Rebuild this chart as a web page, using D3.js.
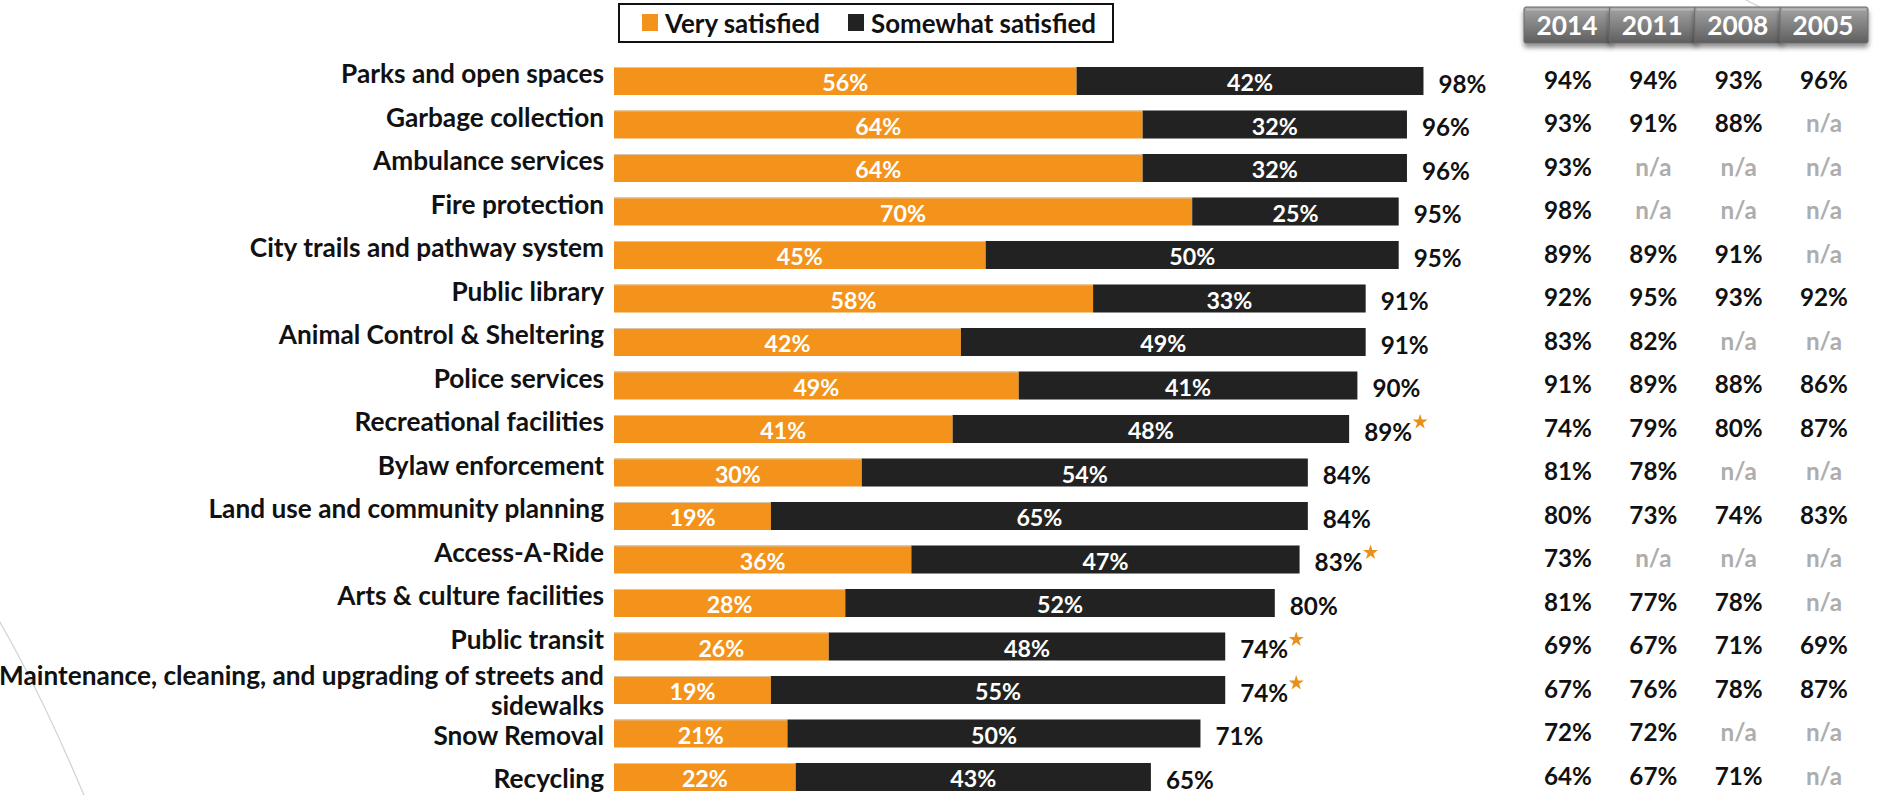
<!DOCTYPE html>
<html>
<head>
<meta charset="utf-8">
<script src="https://cdn.jsdelivr.net/npm/d3@7"></script>
<style>
  html, body { margin: 0; padding: 0; background: #ffffff; }
  svg { display: block; }
  text { font-family: Lato, "Open Sans", sans-serif; font-weight: 700; }
</style>
</head>
<body>
<svg id="chart" width="1883" height="795"></svg>
<script>
// Service satisfaction, sorted by total satisfied
const categories = [
  "Parks and open spaces",
  "Garbage collection",
  "Ambulance services",
  "Fire protection",
  "City trails and pathway system",
  "Public library",
  "Animal Control & Sheltering",
  "Police services",
  "Recreational facilities",
  "Bylaw enforcement",
  "Land use and community planning",
  "Access-A-Ride",
  "Arts & culture facilities",
  "Public transit",
  "Maintenance, cleaning, and upgrading of streets and sidewalks",
  "Snow Removal",
  "Recycling"
];
// Label text as wrapped lines
const categoryLines = [
  ["Parks and open spaces"],
  ["Garbage collection"],
  ["Ambulance services"],
  ["Fire protection"],
  ["City trails and pathway system"],
  ["Public library"],
  ["Animal Control & Sheltering"],
  ["Police services"],
  ["Recreational facilities"],
  ["Bylaw enforcement"],
  ["Land use and community planning"],
  ["Access-A-Ride"],
  ["Arts & culture facilities"],
  ["Public transit"],
  ["Maintenance, cleaning, and upgrading of streets and", "sidewalks"],
  ["Snow Removal"],
  ["Recycling"]
];
const verySatisfied     = [56, 64, 64, 70, 45, 58, 42, 49, 41, 30, 19, 36, 28, 26, 19, 21, 22];
const somewhatSatisfied = [42, 32, 32, 25, 50, 33, 49, 41, 48, 54, 65, 47, 52, 48, 55, 50, 43];
const totalSatisfied    = [98, 96, 96, 95, 95, 91, 91, 90, 89, 84, 84, 83, 80, 74, 74, 71, 65];
// Significant change vs. 2014 flagged with a star
const flagged           = [false, false, false, false, false, false, false, false, true, false, false, true, false, true, true, false, false];

// Earlier survey waves (null = not asked)
const years = ["2014", "2011", "2008", "2005"];
const wave2014 = [94, 93, 93, 98, 89, 92, 83, 91, 74, 81, 80, 73, 81, 69, 67, 72, 64];
const wave2011 = [94, 91, null, null, 89, 95, 82, 89, 79, 78, 73, null, 77, 67, 76, 72, 67];
const wave2008 = [93, 88, null, null, 91, 93, null, 88, 80, null, 74, null, 78, 71, 78, null, 71];
const wave2005 = [96, null, null, null, null, 92, null, 86, 87, null, 83, null, null, 69, 87, null, null];
const waves = [wave2014, wave2011, wave2008, wave2005];

const seriesNames = ["Very satisfied", "Somewhat satisfied"];

const ORANGE = "#F3931B";
const DARK = "#222222";

const svg = d3.select("#chart");
const defs = svg.append("defs");

// Pick a font size so that a sample string spans the given width
function fitSize(sample, width) {
  const t = svg.append("text").attr("font-size", 100).text(sample);
  const w = t.node().getComputedTextLength();
  t.remove();
  return 100 * width / w;
}
const labelSize  = fitSize("Parks and open spaces", 263);
const legendSize = fitSize("Somewhat satisfied", 225);
const totalSize  = fitSize("98%", 48);
const inBarSize  = fitSize("56%", 46);
const waveSize   = fitSize("94%", 48);
const yearSize   = fitSize("2014", 61);

// Header button gradient + shadow
const grad = defs.append("linearGradient").attr("id", "btnGrad")
  .attr("x1", 0).attr("y1", 0).attr("x2", 0).attr("y2", 1);
grad.append("stop").attr("offset", "0%").attr("stop-color", "#a4a4a4");
grad.append("stop").attr("offset", "45%").attr("stop-color", "#858585");
grad.append("stop").attr("offset", "100%").attr("stop-color", "#5e5e5e");
const shadow = defs.append("filter").attr("id", "btnShadow")
  .attr("x", "-20%").attr("y", "-20%").attr("width", "140%").attr("height", "170%");
shadow.append("feDropShadow").attr("dx", 0).attr("dy", 4).attr("stdDeviation", 2.5)
  .attr("flood-color", "#000").attr("flood-opacity", 0.45);

// Faint decorative background arcs
const deco = svg.append("g").attr("fill", "none").attr("stroke", "#d4d4d4").attr("stroke-width", 1.3);
const arcL = d3.path();
arcL.moveTo(-6, 612);
arcL.quadraticCurveTo(40, 690, 86, 800);
deco.append("path").attr("d", arcL.toString());
const arcR = d3.path();
arcR.moveTo(1742, -2);
arcR.quadraticCurveTo(1775, 14, 1808, 36);
deco.append("path").attr("d", arcR.toString());

// Scales
const x = d3.scaleLinear().domain([0, 100]).range([614, 1440]);
const y = d3.scaleBand().domain(categories).range([59.25, 798.75])
  .paddingInner(0.356).paddingOuter(0.178);
const xYear = d3.scalePoint().domain(years).range([1568, 1824]);
const rowMid = c => y(c) + y.bandwidth() / 2;

const rows = categories.map((c, i) => ({
  cat: c, lines: categoryLines[i],
  v: verySatisfied[i], s: somewhatSatisfied[i], t: totalSatisfied[i], star: flagged[i]
}));

// Stacked bars
const stack = d3.stack().keys(["v", "s"]);
const stacked = stack(rows);
const colors = [ORANGE, DARK];

const barG = svg.append("g");
stacked.forEach((layer, li) => {
  const g = barG.append("g");
  g.selectAll("rect").data(layer).join("rect")
    .attr("x", d => x(d[0]))
    .attr("y", d => y(d.data.cat))
    .attr("width", d => x(d[1]) - x(d[0]))
    .attr("height", y.bandwidth())
    .attr("fill", colors[li]);
  if (li === 0) {
    // light top edge on orange segments
    g.selectAll("line").data(layer).join("line")
      .attr("x1", d => x(d[0])).attr("x2", d => x(d[1]))
      .attr("y1", d => y(d.data.cat) + 0.5).attr("y2", d => y(d.data.cat) + 0.5)
      .attr("stroke", "#d9c6ad").attr("stroke-width", 1);
  }
  g.selectAll("text").data(layer).join("text")
    .attr("x", d => (x(d[0]) + x(d[1])) / 2)
    .attr("y", d => rowMid(d.data.cat) + 1)
    .attr("text-anchor", "middle")
    .attr("dominant-baseline", "central")
    .attr("fill", "#ffffff")
    .attr("font-size", inBarSize)
    .text(d => (d[1] - d[0]) + "%");
});

// Totals at bar ends
const totG = svg.append("g");
const totTexts = totG.selectAll("text").data(rows).join("text")
  .attr("x", d => x(d.t) + 15)
  .attr("y", d => rowMid(d.cat) + 2)
  .attr("dominant-baseline", "central")
  .attr("fill", "#111")
  .attr("font-size", totalSize)
  .text(d => d.t + "%");

// Stars next to flagged totals
totTexts.each(function(d) {
  if (!d.star) return;
  const bb = this.getBBox();
  totG.append("path")
    .attr("d", d3.symbol(d3.symbolStar, 70)())
    .attr("transform", `translate(${bb.x + bb.width + 8},${rowMid(d.cat) - 7})`)
    .attr("fill", "#E8901A");
});

// Category labels: single-line labels ride a little above their bar,
// the wrapped label is centred on its bar, the ones after it sit slightly below
const labG = svg.append("g");
const lineGap = 30.5;
const wrappedIdx = rows.findIndex(r => r.lines.length > 1);
rows.forEach((d, i) => {
  const n = d.lines.length;
  const off = n > 1 ? 0 : (i < wrappedIdx ? -8 : 1);
  const cy = rowMid(d.cat) + off;
  const t = labG.append("text")
    .attr("x", 604)
    .attr("text-anchor", "end")
    .attr("fill", "#111")
    .attr("font-size", labelSize);
  d.lines.forEach((ln, k) => {
    t.append("tspan")
      .attr("x", 604)
      .attr("y", cy + (k - (n - 1) / 2) * lineGap)
      .attr("dominant-baseline", "central")
      .text(ln);
  });
});

// Year header buttons
const hdr = svg.append("g");
years.forEach(yr => {
  const cx = xYear(yr);
  hdr.append("rect")
    .attr("x", cx - 44).attr("y", 7).attr("width", 88).attr("height", 36)
    .attr("rx", 2)
    .attr("fill", "url(#btnGrad)")
    .attr("stroke", "#6a6a6a").attr("stroke-width", 1)
    .attr("filter", "url(#btnShadow)");
  hdr.append("rect")
    .attr("x", cx - 42).attr("y", 8.5).attr("width", 84).attr("height", 2)
    .attr("fill", "#c4c4c4").attr("opacity", 0.7);
  hdr.append("text")
    .attr("x", cx - 1).attr("y", 25)
    .attr("text-anchor", "middle").attr("dominant-baseline", "central")
    .attr("fill", "#ffffff").attr("font-size", yearSize)
    .text(yr);
});

// Earlier-wave values
const waveG = svg.append("g");
years.forEach((yr, wi) => {
  waveG.append("g").selectAll("text").data(waves[wi]).join("text")
    .attr("x", xYear(yr))
    .attr("y", (d, i) => rowMid(categories[i]) - 2)
    .attr("text-anchor", "middle").attr("dominant-baseline", "central")
    .attr("font-size", waveSize)
    .attr("fill", d => d == null ? "#adadad" : "#111")
    .text(d => d == null ? "n/a" : d + "%");
});

// Legend
const leg = svg.append("g");
leg.append("rect").attr("x", 619).attr("y", 4).attr("width", 494).attr("height", 38)
  .attr("fill", "#fff").attr("stroke", "#111").attr("stroke-width", 2);
const legX = [642, 848];
seriesNames.forEach((nm, i) => {
  leg.append("rect").attr("x", legX[i]).attr("y", 14).attr("width", 16).attr("height", 17)
    .attr("fill", colors[i]);
  leg.append("text").attr("x", legX[i] + 23).attr("y", 23)
    .attr("dominant-baseline", "central").attr("font-size", legendSize).attr("fill", "#111")
    .text(nm);
});
</script>
</body>
</html>
